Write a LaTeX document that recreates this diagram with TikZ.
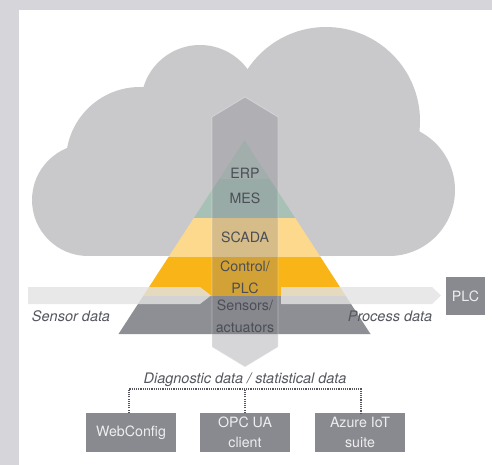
\documentclass[tikz,border=0pt]{standalone}
\usepackage{fontspec}
\setmainfont{TeX Gyre Heros}
\usetikzlibrary{calc}
\definecolor{bggray}{HTML}{D6D6DA}
\definecolor{cloudc}{HTML}{C9C9CB}
\definecolor{erpc}{HTML}{B5C6BF}
\definecolor{mesc}{HTML}{A8C1B7}
\definecolor{scadac}{HTML}{FDD98D}
\definecolor{ctrlc}{HTML}{F9B518}
\definecolor{sensc}{HTML}{8E8F94}
\definecolor{boxc}{HTML}{898A8F}
\definecolor{darktext}{HTML}{4B4E56}
\definecolor{labeltext}{HTML}{55575F}
\definecolor{boxtext}{HTML}{EEEEF0}
\definecolor{flowc}{HTML}{E3E3E3}
\definecolor{bigarrow}{HTML}{797980}
\begin{document}
\begin{tikzpicture}[x=1pt,y=-1pt,
  lvltext/.style={text=darktext,font=\fontsize{14.2}{22}\selectfont,align=center,inner sep=0pt},
  flowlabel/.style={text=labeltext,font=\fontsize{14.5}{16}\selectfont\itshape,inner sep=0pt},
  toolbox/.style={fill=boxc,text=boxtext,font=\fontsize{14.2}{20.5}\selectfont,align=center,
    minimum width=90pt,minimum height=39pt,inner sep=0pt},
  plcbox/.style={fill=boxc,text=boxtext,font=\fontsize{14.2}{16}\selectfont,
    minimum width=39pt,minimum height=38pt,inner sep=0pt},
  flowarrow/.style={fill=flowc,fill opacity=0.82},
  dotline/.style={draw=labeltext,line width=1.1pt,dash pattern=on 1.1pt off 1.1pt}
]
\useasboundingbox (0,0) rectangle (492,465);
% background frame
\fill[bggray] (0,0) rectangle (492,465);
\fill[white] (19,10) rectangle (492,465);
% cloud
\begin{scope}[cloudc]
\fill (326,121) circle (94);
\fill (389,190) circle (66);
\fill (88,200) circle (56);
\fill (140,161) circle (74);
\fill (200,104) circle (59);
\fill (88,150) rectangle (389,256);
\end{scope}
% pyramid
\begin{scope}
\clip (244.5,140) -- (370.5,334) -- (118.5,334) -- cycle;
\fill[erpc] (100,139) rectangle (400,179);
\fill[mesc] (100,179) rectangle (400,218);
\fill[scadac] (100,218) rectangle (400,257);
\fill[ctrlc] (100,257) rectangle (400,296);
\fill[sensc] (100,296) rectangle (400,335);
\end{scope}
% big vertical arrow
\path[fill=bigarrow,fill opacity=0.3,draw=white,draw opacity=0.35,line width=0.8pt]
  (212,117) -- (245,97) -- (278,117) -- (278,347) -- (245,367) -- (212,347) -- cycle;
% horizontal flows
\path[flowarrow] (28,287) -- (200,287) -- (211,295.5) -- (200,304) -- (28,304) -- cycle;
\path[flowarrow] (281,287) -- (432,287) -- (441,295.5) -- (432,304) -- (281,304) -- cycle;
% pyramid texts
\node[lvltext] (erp) at (245,173.3) {ERP};
\node[lvltext] (mes) at (245,198.7) {MES};
\node[lvltext] (scada) at (245,237.7) {SCADA};
\node[lvltext] (ctrl) at (245,277) {Control/\\PLC};
\node[lvltext] (sens) at (245,316) {Sensors/\\actuators};
% flow labels
\node[flowlabel] (sensorlbl) at (71,316) {Sensor data};
\node[flowlabel] (processlbl) at (390,316) {Process data};
\node[flowlabel] (diaglbl) at (245,380) {Diagnostic data / statistical data};
% PLC box
\node[plcbox] (plc) at (465.5,296) {PLC};
% tool boxes
\node[toolbox] (web) at (131,432.5) {WebConfig};
\node[toolbox] (opc) at (245,432.5) {OPC UA\\client};
\node[toolbox] (azure) at (360,432.5) {Azure IoT\\suite};
% dotted connectors
\coordinate (bar) at (245,389);
\draw[dotline] ([xshift=-2pt]web.north) -- ([xshift=-2pt]web.north |- bar) -- ([xshift=1pt]azure.north |- bar) -- ([xshift=1pt]azure.north);
\draw[dotline] (opc.north) -- (opc.north |- bar);
\end{tikzpicture}
\end{document}
